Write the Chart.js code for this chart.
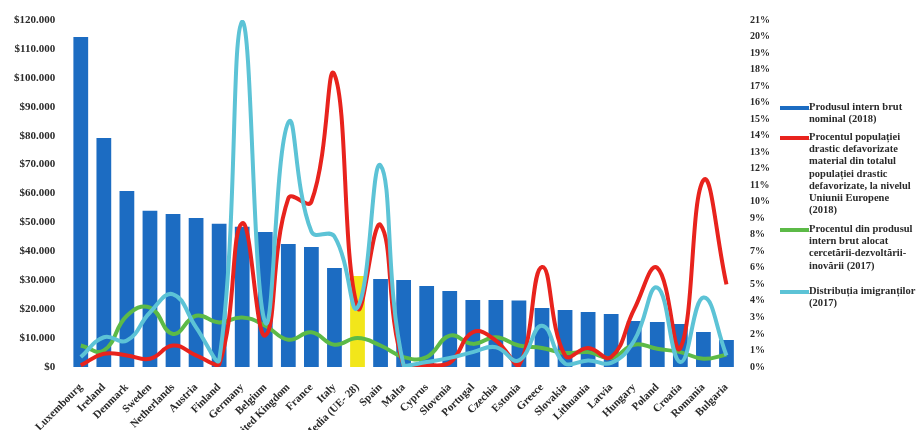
<!DOCTYPE html>
<html><head><meta charset="utf-8">
<script src="https://cdn.jsdelivr.net/npm/chart.js@4/dist/chart.umd.min.js"></script>
<style>
html,body{margin:0;padding:0;background:#fff;overflow:hidden;}
#wrap{position:relative;width:916px;height:430px;overflow:hidden;}
#legend{position:absolute;left:780px;top:101px;font-family:"Liberation Serif",serif;font-weight:bold;font-size:10.5px;color:#2a2a2a;line-height:12.2px;}
.item{position:absolute;left:0;width:136px;}
.sw{position:absolute;left:0;top:5px;width:29px;height:4px;}
.tx{position:absolute;left:29px;white-space:nowrap;}
</style></head>
<body>
<div id="wrap"><canvas id="c" width="916" height="430"></canvas>
<div id="legend"></div></div>
<script>
const categories = ["Luxembourg","Ireland","Denmark","Sweden","Netherlands","Austria","Finland","Germany","Belgium","United Kingdom","France","Italy","Media (UE- 28)","Spain","Malta","Cyprus","Slovenia","Portugal","Czechia","Estonia","Greece","Slovakia","Lithuania","Latvia","Hungary","Poland","Croatia","Romania","Bulgaria"];
const gdp = [114100,79200,60900,54000,52900,51500,49500,48500,46700,42500,41500,34200,31500,30400,30100,28000,26300,23200,23200,23000,20400,19700,19000,18300,15900,15600,14900,12100,9300];
const deprived = [0.1,0.8,0.7,0.5,1.3,0.7,0.15,8.7,1.9,10.2,10.0,17.7,3.6,8.6,0.1,0.1,0.25,2.1,1.6,0.1,6.05,0.7,1.15,0.6,3.5,6.0,1.15,11.3,5.0];
const rnd = [1.3,1.0,3.1,3.6,2.0,3.1,2.7,3.0,2.5,1.65,2.1,1.35,1.75,1.3,0.6,0.6,1.9,1.4,1.8,1.3,1.15,0.85,0.9,0.55,1.35,1.1,0.9,0.5,0.75];
const immigrants = [0.6,1.8,1.6,3.3,4.4,2.4,0.4,20.9,2.7,14.8,8.2,7.9,3.6,12.2,0.1,0.3,0.55,0.9,1.2,0.4,2.5,0.2,0.4,0.25,1.6,4.8,0.3,4.2,0.7];
const seriesNames = [
  ["Produsul intern brut","nominal (2018)"],
  ["Procentul populației","drastic defavorizate","material din totalul","populației drastic","defavorizate, la nivelul","Uniunii Europene","(2018)"],
  ["Procentul din produsul","intern brut alocat","cercetării-dezvoltării-","inovării (2017)"],
  ["Distribuția imigranților","(2017)"]
];
const colors = ["#1c6cc2","#e8231d","#5cba47","#5cc3d6"];
const highlightColor = "#f2e61a";
const highlightIndex = 12;

const barColors = categories.map((c,i)=> i===highlightIndex ? highlightColor : colors[0]);

new Chart(document.getElementById('c'), {
  data: {
    labels: categories,
    datasets: [
      {type:'line', label:seriesNames[3].join(' '), data:immigrants, yAxisID:'y1', borderColor:colors[3], borderWidth:4, pointRadius:0, tension:0.45, order:1},
      {type:'line', label:seriesNames[1].join(' '), data:deprived, yAxisID:'y1', borderColor:colors[1], borderWidth:4, pointRadius:0, tension:0.45, order:2},
      {type:'line', label:seriesNames[2].join(' '), data:rnd, yAxisID:'y1', borderColor:colors[2], borderWidth:4, pointRadius:0, tension:0.45, order:3},
      {type:'bar', label:seriesNames[0].join(' '), data:gdp, yAxisID:'y', backgroundColor:barColors, categoryPercentage:0.8, barPercentage:0.8, order:4}
    ]
  },
  options: {
    responsive:false, animation:false,
    layout:{padding:{left:8, right:142, top:20, bottom:0}},
    plugins:{legend:{display:false}, tooltip:{enabled:false}},
    scales:{
      x:{grid:{display:false}, border:{display:false},
         afterFit:(s)=>{ s.height = 63; },
         ticks:{font:{family:"Liberation Serif", weight:"bold", size:11}, color:"#2a2a2a", maxRotation:45, minRotation:45, autoSkip:false, padding:6}},
      y:{position:'left', min:0, max:120000, grid:{display:false}, border:{display:false},
         ticks:{stepSize:10000, font:{family:"Liberation Serif", weight:"bold", size:11}, color:"#2a2a2a", padding:6,
           callback:v=> '$' + (v===0 ? '0' : String(v).replace(/\B(?=(\d{3})+(?!\d))/g,'.'))}},
      y1:{position:'right', min:0, max:21, grid:{display:false}, border:{display:false},
         ticks:{stepSize:1, font:{family:"Liberation Serif", weight:"bold", size:10}, color:"#2a2a2a", padding:4, callback:v=> v+'%'}}
    }
  }
});

const legendTops = [0, 30, 122, 184];
const lg = document.getElementById('legend');
seriesNames.forEach((lines,i)=>{
  const it = document.createElement('div'); it.className='item'; it.style.top = legendTops[i]+'px';
  const sw = document.createElement('div'); sw.className='sw'; sw.style.background=colors[i];
  const tx = document.createElement('div'); tx.className='tx'; tx.innerHTML = lines.join('<br>');
  it.appendChild(sw); it.appendChild(tx); lg.appendChild(it);
});
</script>
</body></html>
